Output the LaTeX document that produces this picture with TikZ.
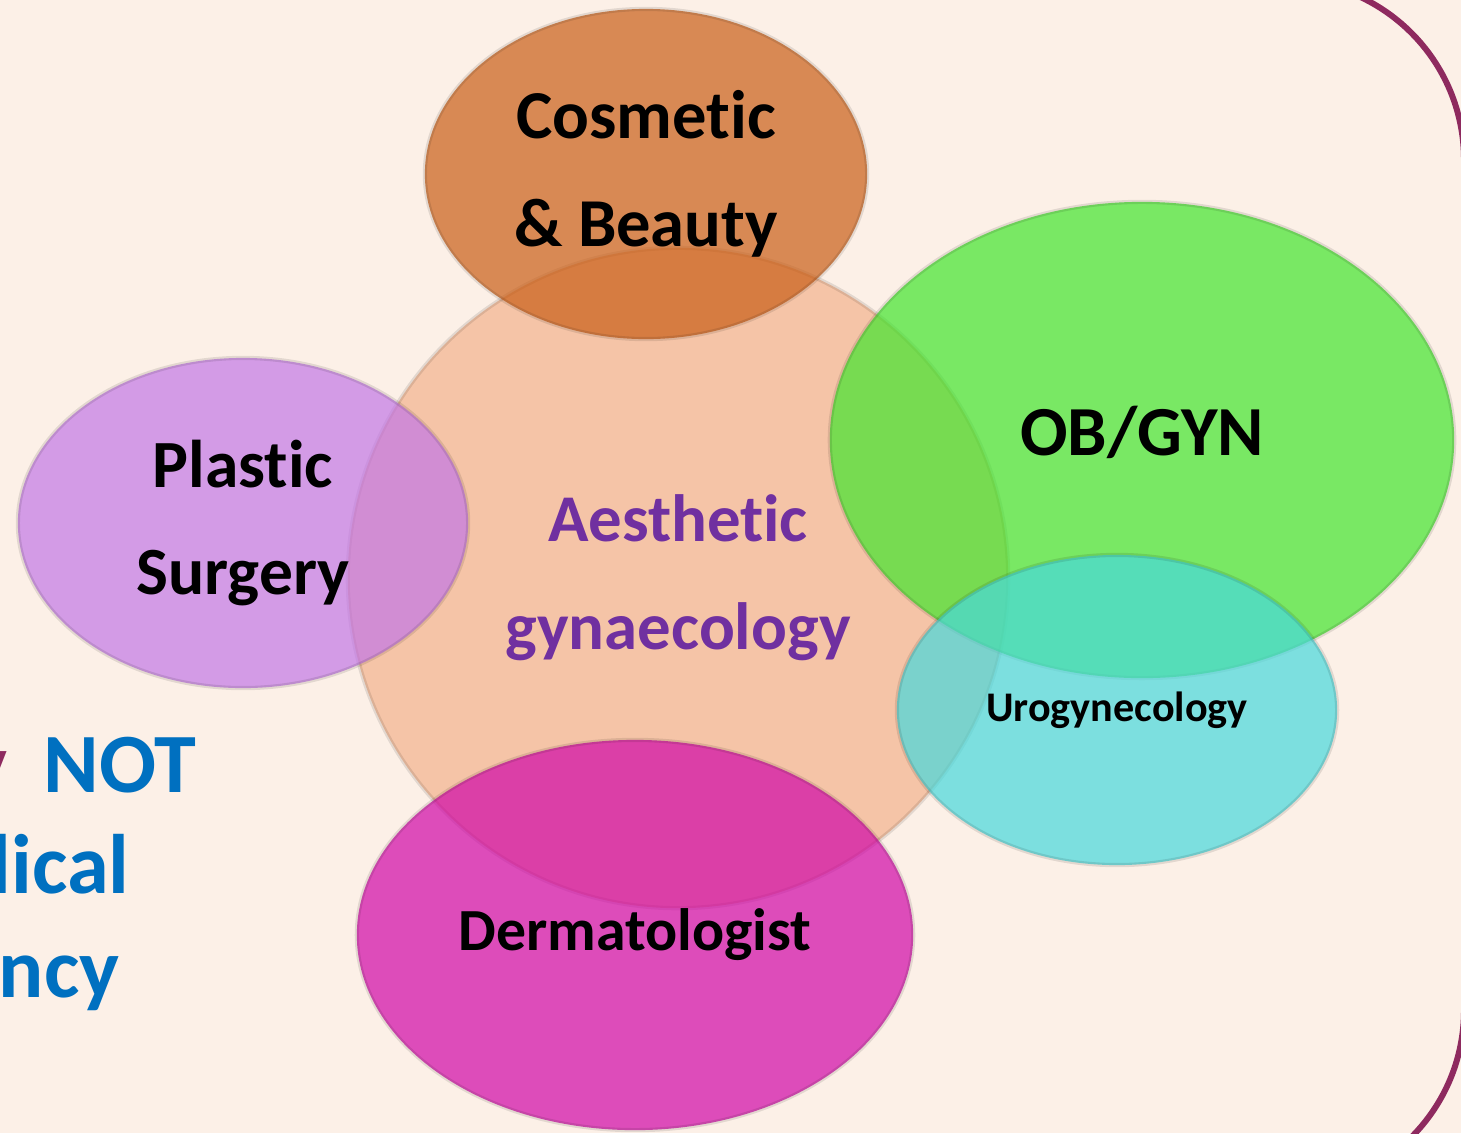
\documentclass[tikz,border=0pt]{standalone}
\usepackage{fontspec}
\setmainfont{Carlito}[Ligatures={NoCommon,TeX}]
\usetikzlibrary{shapes.geometric}
\definecolor{paper}{HTML}{FCF0E7}
\definecolor{frameplum}{HTML}{8E2A5F}
\definecolor{notblue}{HTML}{0070C0}
\definecolor{peach}{HTML}{F5C4A7}
\definecolor{cosmorange}{HTML}{CA5E16}
\definecolor{obgreen}{HTML}{42E52D}
\definecolor{urocyan}{HTML}{47D9DC}
\definecolor{plasviolet}{HTML}{C377E6}
\definecolor{dermmagenta}{HTML}{D007A7}
\definecolor{aesthpurple}{HTML}{7030A0}

\begin{document}
\begin{tikzpicture}[x=0.01cm, y=-0.01cm, font=\bfseries]
  \tikzstyle{bubble}=[ellipse, draw=black, draw opacity=0.1, line width=1.2pt, inner sep=0pt, align=center, fill opacity=0.7, text opacity=1]
  \tikzstyle{note}=[inner sep=0pt, text=notblue, font=\fontsize{24}{28}\selectfont\bfseries, anchor=base east]
  \useasboundingbox (0,0) rectangle (1461,1133);
  \clip (0,0) rectangle (1461,1133);
  \fill[paper] (0,0) rectangle (1461,1133);
  \draw[frameplum, line width=1.7pt, rounded corners=1.8cm] (-200,-20) rectangle (1464,1190);

  % side text, cut at the left edge
  \node[note, text=frameplum] (yword) at (8,792) {y};
  \node[note] (notword) at (197,792) {NOT};
  \node[note] (licalword) at (130,893) {lical};
  \node[note] (ncyword) at (120,997) {ncy};

  % centre and the five specialties
  \node[circle, draw=black, draw opacity=0.1, line width=1.2pt, fill=peach, minimum size=6.6cm, inner sep=0pt, align=center,
        text=aesthpurple, font=\fontsize{19}{30.7}\selectfont\bfseries] (aesth) at (678,578) {Aesthetic\\gynaecology};
  \node[bubble, fill=cosmorange, minimum width=4.42cm, minimum height=3.3cm,
        font=\fontsize{19.5}{30.7}\selectfont\bfseries] (cosm) at (646,174) {Cosmetic\\\& Beauty};
  \node[bubble, fill=plasviolet, minimum width=4.5cm, minimum height=3.3cm,
        font=\fontsize{19.2}{30.7}\selectfont\bfseries] (plas) at (243,523) {Plastic\\Surgery};
  \node[bubble, fill=obgreen, minimum width=6.24cm, minimum height=4.76cm,
        font=\fontsize{20}{24}\selectfont\bfseries] (obgyn) at (1142,440) {\raisebox{5pt}{OB/GYN}};
  \node[bubble, fill=urocyan, minimum width=4.4cm, minimum height=3.1cm,
        font=\fontsize{12}{14}\selectfont\bfseries] (uro) at (1117,710) {Urogynecology};
  \node[bubble, fill=dermmagenta, minimum width=5.56cm, minimum height=3.9cm,
        font=\fontsize{17}{20}\selectfont\bfseries] (derm) at (635,935) {Dermatologist};
\end{tikzpicture}
\end{document}
